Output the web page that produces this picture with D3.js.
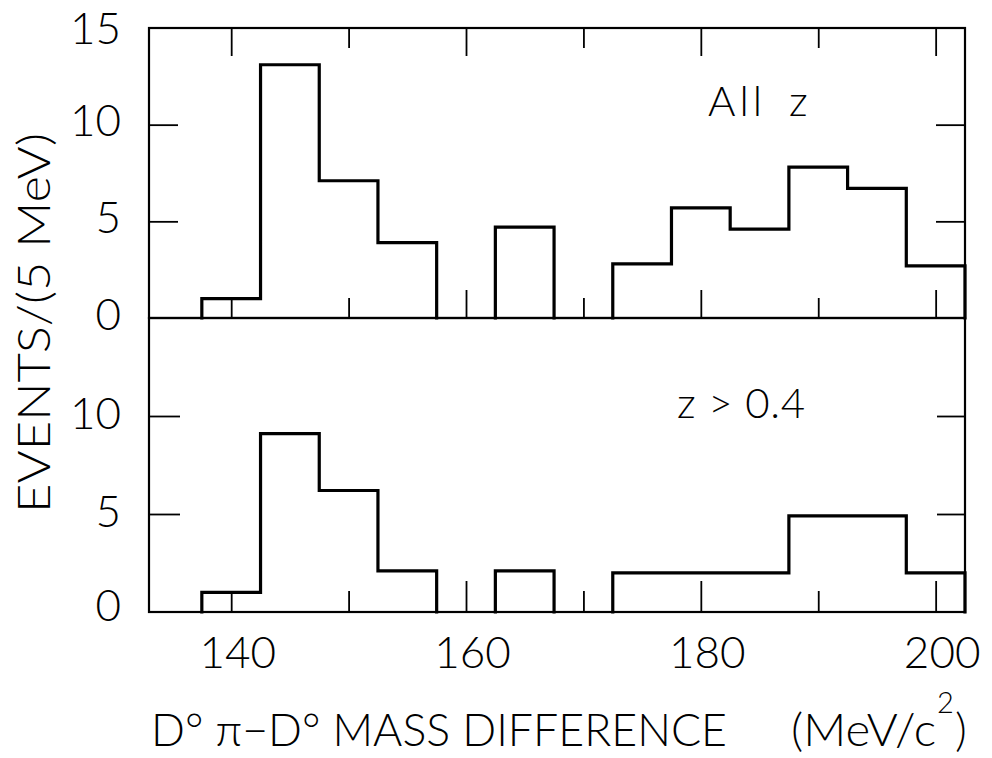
<!DOCTYPE html>
<html><head><meta charset="utf-8">
<script src="https://cdn.jsdelivr.net/npm/d3@7"></script>
<style>
html,body{margin:0;padding:0;background:#fff;}
svg{display:block;}
text{font-family:Lato,"Liberation Sans",Arial,sans-serif;font-weight:300;fill:#000;}
</style></head><body>
<svg id="chart" width="992" height="758"></svg>
<script>
// ---- data ----
const binLow = [137.5,142.5,147.5,152.5,157.5,162.5,167.5,172.5,177.5,182.5,187.5,192.5,197.5];
const binWidth = 5;
const eventsAllZ  = [1.0,13.1,7.1,3.9,0,4.7,0,2.8,5.7,4.6,7.8,6.7,2.7];
const eventsZgt04 = [1.0,9.1,6.2,2.1,0,2.1,0,2.0,2.0,2.0,4.9,4.9,2.0];
const xTicks = [140,150,160,170,180,190,200];
const xTickLabels = [140,160,180,200];
const yTickLabelsTop = [0,5,10,15];
const yTickLabelsBottom = [0,5,10];
const yInnerTicks = [5,10];
const panelLabels = ["All z","z > 0.4"];
const yAxisTitle = "EVENTS/(5 MeV)";
const xAxisTitle = "D° π−D°  MASS DIFFERENCE";

// ---- layout ----
const FONT = "Lato, Liberation Sans, Arial, sans-serif";
const svg = d3.select("#chart");
const L = 149, R = 965, T = 28, M = 318, B = 612;
const x = d3.scaleLinear().domain([133, 202.5]).range([L, R]);
const yTop = d3.scaleLinear().domain([0, 15]).range([M, T]);
const yBot = d3.scaleLinear().domain([0, 15]).range([B, M]);

// frames
svg.append("rect").attr("x", L).attr("y", T).attr("width", R - L).attr("height", M - T)
  .attr("fill", "none").attr("stroke", "#000").attr("stroke-width", 2.2);
svg.append("rect").attr("x", L).attr("y", M).attr("width", R - L).attr("height", B - M)
  .attr("fill", "none").attr("stroke", "#000").attr("stroke-width", 2.2);

function styleAxis(g) {
  g.select(".domain").remove();
  g.selectAll(".tick line").attr("stroke", "#000").attr("stroke-width", 1.8);
  g.selectAll(".tick text").attr("font-size", 44).attr("fill", "#000")
    .attr("font-family", FONT).attr("font-weight", 300);
}

// x ticks: top edge (pointing down)
const gxTop = svg.append("g").attr("transform", `translate(0,${T})`)
  .call(d3.axisTop(x).tickValues(xTicks).tickSize(-28).tickFormat(""));
styleAxis(gxTop);
gxTop.selectAll(".tick line").attr("y2", d => (d % 20 === 0 ? 28 : 20));

// x ticks: middle edge (pointing up into top panel)
const gxMid = svg.append("g").attr("transform", `translate(0,${M})`)
  .call(d3.axisBottom(x).tickValues(xTicks).tickSize(-28).tickFormat(""));
styleAxis(gxMid);
gxMid.selectAll(".tick line").attr("y2", d => (d % 20 === 0 && d !== 140 ? -28 : -20));

// x ticks: bottom edge with labels
const gxBot = svg.append("g").attr("transform", `translate(0,${B})`)
  .call(d3.axisBottom(x).tickValues(xTicks).tickSize(-30).tickPadding(25)
    .tickFormat(d => xTickLabels.includes(d) ? d : ""));
styleAxis(gxBot);
gxBot.selectAll(".tick line").attr("y2", d => (d % 20 === 0 && d !== 140 ? -31 : -21));
gxBot.selectAll(".tick text").attr("dx", 6);

// y axes
const gyTop = svg.append("g").attr("transform", `translate(${L},0)`)
  .call(d3.axisLeft(yTop).tickValues(yTickLabelsTop).tickSize(-29).tickPadding(28));
styleAxis(gyTop);
gyTop.selectAll(".tick line").attr("x2", d => yInnerTicks.includes(d) ? 29 : 0);
gyTop.selectAll(".tick text").attr("y", d => d === 15 ? 1 : -3);

const gyBot = svg.append("g").attr("transform", `translate(${L},0)`)
  .call(d3.axisLeft(yBot).tickValues(yTickLabelsBottom).tickSize(-31).tickPadding(28));
styleAxis(gyBot);
gyBot.selectAll(".tick line").attr("x2", d => yInnerTicks.includes(d) ? 31 : 0);
gyBot.selectAll(".tick text").attr("y", d => d === 0 ? -6 : -2);

const gyTopR = svg.append("g").attr("transform", `translate(${R},0)`)
  .call(d3.axisRight(yTop).tickValues(yInnerTicks).tickSize(-29).tickFormat(""));
styleAxis(gyTopR);
const gyBotR = svg.append("g").attr("transform", `translate(${R},0)`)
  .call(d3.axisRight(yBot).tickValues(yInnerTicks).tickSize(-28).tickFormat(""));
styleAxis(gyBotR);

// histograms (step outlines, one path per run of non-empty bins)
function drawHist(values, y) {
  const runs = [];
  let cur = null;
  values.forEach((v, i) => {
    if (v > 0) {
      if (!cur) { cur = []; runs.push(cur); }
      cur.push({ lo: binLow[i], v });
    } else cur = null;
  });
  const line = d3.line().x(p => x(p[0])).y(p => y(p[1])).curve(d3.curveStepAfter);
  runs.forEach(run => {
    const pts = [[run[0].lo, 0]]
      .concat(run.map(b => [b.lo, b.v]))
      .concat([[run[run.length - 1].lo + binWidth, 0]]);
    svg.append("path").attr("d", line(pts)).attr("fill", "none")
      .attr("stroke", "#000").attr("stroke-width", 3.2)
      .attr("stroke-linejoin", "miter").attr("stroke-linecap", "square");
  });
}
drawHist(eventsAllZ, yTop);
drawHist(eventsZgt04, yBot);

// panel labels
svg.append("text").attr("x", 708).attr("y", 116).attr("font-size", 42)
  .attr("textLength", 54).attr("lengthAdjust", "spacing").text("All");
svg.append("text").attr("x", 789).attr("y", 116).attr("font-size", 42).text("z");
svg.append("text").attr("x", 677).attr("y", 418).attr("font-size", 42)
  .attr("textLength", 128).attr("lengthAdjust", "spacing").text(panelLabels[1]);

// y axis title
svg.append("text").attr("transform", "translate(50,323) rotate(-90)")
  .attr("text-anchor", "middle").attr("font-size", 45)
  .attr("textLength", 380).attr("lengthAdjust", "spacingAndGlyphs").text(yAxisTitle);

// x axis title
const xt = svg.append("g").attr("font-size", 46);
xt.append("text").attr("x", 151).attr("y", 746).attr("textLength", 576)
  .attr("lengthAdjust", "spacingAndGlyphs").text(xAxisTitle);
xt.append("text").attr("x", 791).attr("y", 746).attr("textLength", 145)
  .attr("lengthAdjust", "spacingAndGlyphs").text("(MeV/c");
xt.append("text").attr("x", 937).attr("y", 713).attr("font-size", 29).text("2");
xt.append("text").attr("x", 955).attr("y", 746).text(")");
</script>
</body></html>
